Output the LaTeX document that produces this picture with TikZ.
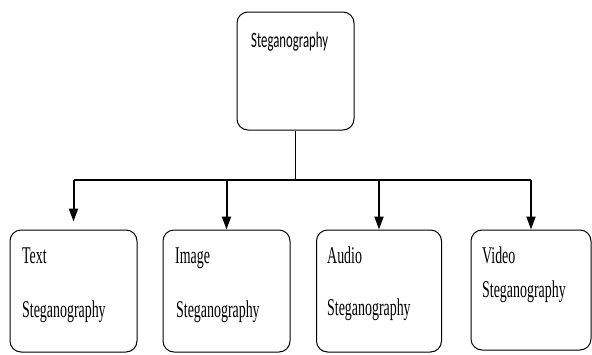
\documentclass[tikz,border=0pt]{standalone}
\usepackage{fontspec}
\usetikzlibrary{arrows.meta}
\newfontfamily\serifnarrow[FakeStretch=0.58]{Liberation Serif}
\newfontfamily\sansnarrow[FakeStretch=0.58]{Carlito}
\tikzset{
	stegbox/.style={rectangle, draw, line width=1pt, rounded corners=11pt, inner sep=0pt},
	boxtext/.style={anchor=base west, inner sep=0pt, font=\serifnarrow\fontsize{24}{26}\selectfont},
	link/.style={line width=2pt, -{Triangle[width=9pt,length=13pt]}}
}
\begin{document}
\begin{tikzpicture}[x=1pt, y=-1pt]
		\useasboundingbox (0, 0) rectangle (592, 354);

		% top box
		\draw
		(295.5, 71) node [stegbox, minimum width=117pt, minimum height=118pt] (steg) {}
		(251, 47) node [anchor=base west, inner sep=0pt, font=\sansnarrow\fontsize{22}{24}\selectfont] (stegtext) {Steganography};

		% kinds
		\draw
		(73.5, 291) node [stegbox, minimum width=127pt, minimum height=122pt] (text) {}
		(226.5, 291) node [stegbox, minimum width=127pt, minimum height=122pt] (image) {}
		(379, 291) node [stegbox, minimum width=125pt, minimum height=122pt] (audio) {}
		(531, 290) node [stegbox, minimum width=120pt, minimum height=120pt] (video) {};

		\draw
		(22, 263) node [boxtext] (text1) {Text}
		(22, 317) node [boxtext] (text2) {Steganography}
		(175, 263) node [boxtext] (image1) {Image}
		(176, 317) node [boxtext] (image2) {Steganography}
		(327, 263) node [boxtext] (audio1) {Audio}
		(327, 315) node [boxtext] (audio2) {Steganography}
		(482, 263) node [boxtext] (video1) {Video}
		(482, 297) node [boxtext] (video2) {Steganography};

		% connectors
		\coordinate (bus) at (295.5, 180);
		\draw[line width=1pt] (steg.south) -- (bus);
		\draw[line width=2pt] (text.north |- bus) -- (video.north |- bus);
		\draw[link, shorten >=8pt] (text.north |- bus) -- (text.north);
		\draw[link] (image.north |- bus) -- (image.north);
		\draw[link] (audio.north |- bus) -- (audio.north);
		\draw[link] (video.north |- bus) -- (video.north);
	\end{tikzpicture}
\end{document}
